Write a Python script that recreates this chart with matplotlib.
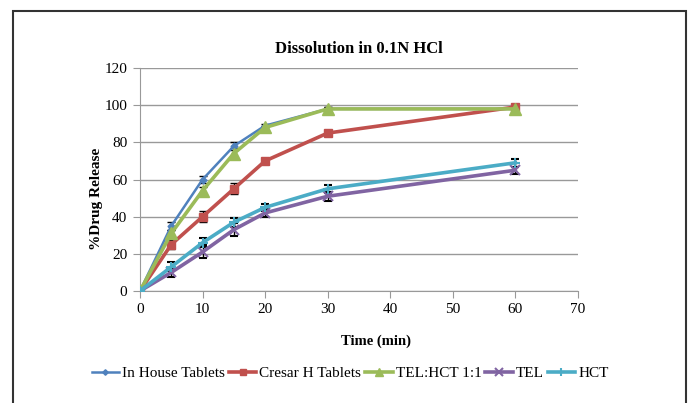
import matplotlib.pyplot as plt
from matplotlib.lines import Line2D
from matplotlib.patches import Rectangle

plt.rcParams['font.family'] = ['Liberation Serif', 'DejaVu Serif']

time = [0, 5, 10, 15, 20, 30, 60]
in_house = [0, 35, 60, 78, 89, 98, 98]
cresar = [0, 25, 40, 55, 70, 85, 99]
tel_hct = [0, 31, 54, 74, 88, 98, 98]
tel = [0, 10, 21, 33, 42, 51, 65]
hct = [0, 13, 26, 37, 45, 55, 69]

err_in_house = [0, 2, 2, 2, 1, 1, 1]
err_cresar = [0, 2.5, 3, 3, 1, 1, 1]
err_tel_hct = [0, 2, 2, 3, 1, 1, 1]
err_tel = [0, 2.5, 3.5, 3.5, 2, 2.5, 2]
err_hct = [0, 2.5, 2.5, 2.5, 2, 2, 2]

series = [
    ("In House Tablets", in_house, err_in_house, "#4F81BD", "D", 3.5, 1.8),
    ("Cresar H Tablets", cresar, err_cresar, "#C0504D", "s", 6, 2.6),
    ("TEL:HCT 1:1", tel_hct, err_tel_hct, "#9BBB59", "^", 8, 2.6),
    ("TEL", tel, err_tel, "#8064A2", "x", 7, 2.6),
    ("HCT", hct, err_hct, "#4BACC6", "+", 7, 2.6),
]

fig = plt.figure(figsize=(6.96, 4.03), dpi=100)
ax = fig.add_axes([0.2011, 0.2779, 0.6293, 0.5533])

handles = []
for label, vals, err, color, marker, ms, lw in series:
    mew = 1.5 if marker in "x+" else 1
    ax.errorbar(time, vals, yerr=err, color=color, ecolor="black", elinewidth=1,
                capsize=3, capthick=1, marker=marker, markersize=ms, lw=lw,
                markeredgewidth=mew, zorder=3)
    handles.append(Line2D([], [], color=color, marker=marker, markersize=ms * 0.8,
                          lw=lw, markeredgewidth=mew, label=label))

ax.set_xlim(0, 70)
ax.set_ylim(0, 120)
ax.set_xticks(range(0, 71, 10))
ax.set_yticks(range(0, 121, 20))
ax.yaxis.grid(True, color="#999999", lw=1)
ax.set_axisbelow(True)
for s in ["top", "right"]:
    ax.spines[s].set_visible(False)
for s in ["left", "bottom"]:
    ax.spines[s].set_color("#999999")
ax.tick_params(colors="#999999", labelcolor="black", labelsize=11, length=5)
ax.tick_params(axis="y", pad=4)

ax.set_title("Dissolution in 0.1N HCl", fontsize=12, fontweight="bold", pad=11)
ax.set_xlabel("Time (min)", fontsize=10.5, fontweight="bold")
ax.set_ylabel("%Drug Release", fontsize=11, fontweight="bold")
ax.xaxis.set_label_coords(0.539, -0.195)
ax.yaxis.set_label_coords(-0.085, 0.413)

ax.legend(handles=handles, loc="center", bbox_to_anchor=(0.503, 0.074), ncol=5,
          frameon=False, fontsize=11, handlelength=1.8, handletextpad=0.2,
          columnspacing=0.25, bbox_transform=fig.transFigure)

fig.patches.append(Rectangle((13 / 696, -0.02), (686 - 13) / 696, 1 - 11 / 403 + 0.02,
                             transform=fig.transFigure, fill=False, edgecolor="#333333",
                             lw=1.5, zorder=10))

fig.savefig("out.png", dpi=100)
